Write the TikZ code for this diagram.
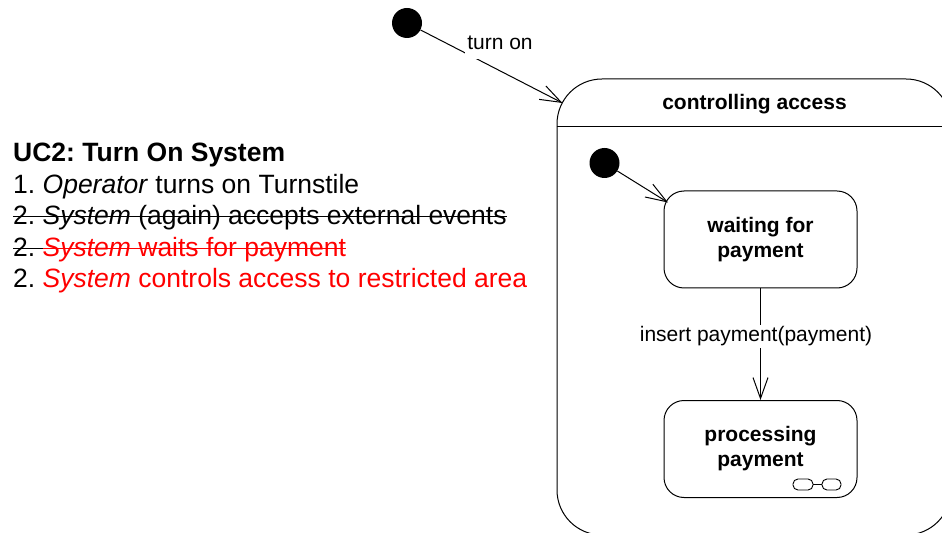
\documentclass[tikz,border=0pt]{standalone}
\usepackage{fontspec}
\setmainfont{Liberation Sans}
\usetikzlibrary{arrows.meta,calc}
\frenchspacing
\newsavebox\stkbox
\newcommand{\stk}[1]{\sbox\stkbox{#1}\rlap{\rule[7.6bp]{\wd\stkbox}{1.3bp}}\usebox\stkbox}
\tikzset{
  statebox/.style={draw, rounded corners=20bp, line width=1bp, minimum width=193bp,
    minimum height=97bp, align=center, inner sep=0,
    font=\bfseries\fontsize{21bp}{25bp}\selectfont},
  initdot/.style={circle, fill=black, minimum size=30bp, inner sep=0},
  trans/.style={-{Straight Barb[length=21bp,width=15bp]}, line width=1bp},
  lbl/.style={fill=white, inner sep=2bp, font=\fontsize{21bp}{25bp}\selectfont},
  uctext/.style={anchor=base west, inner sep=0, font=\fontsize{26.5bp}{31bp}\selectfont},
  uctitle/.style={anchor=base west, inner sep=0, font=\bfseries\fontsize{26.5bp}{31bp}\selectfont},
  iconoval/.style={draw, rounded corners=5bp, minimum height=11bp, inner sep=0, line width=0.9bp},
}
\begin{document}
\begin{tikzpicture}[x=1bp,y=-1bp]
\useasboundingbox (0,0) rectangle (942,533);
\clip (0,0) rectangle (942,533);
\fill[white] (0,0) rectangle (942,533);

% outer composite state
\node[draw, line width=1bp, rounded corners=45bp, minimum width=394bp, minimum height=456bp, inner sep=0] (ca) at (754,307) {};
\draw[line width=1bp] (ca.west |- 0,127) -- (ca.east |- 0,127);
\node[anchor=base, inner sep=0, font=\bfseries\fontsize{21bp}{25bp}\selectfont] (catitle) at (754.5,110) {controlling access};

% top initial state
\node[initdot] (init1) at (407,23) {};
\coordinate (ca-in) at (562.5,103);
\draw[trans] (init1) -- (ca-in);
\node[lbl, anchor=base, text depth=6bp, inner ysep=3bp] (lturnon) at (500,50) {turn on};

% inner initial state
\node[initdot] (init2) at (604.5,163) {};
\node[statebox] (waiting) at (760.5,239.5) {waiting for\\payment};
\coordinate (w-in) at (668,202.5);
\draw[trans] (init2) -- (w-in);

\node[statebox] (processing) at (760.5,449) {processing\\payment};
\draw[trans] (waiting) -- (processing);
\node[lbl, anchor=base] (lins) at (756,342) {insert payment(payment)};

% composite icon
\node[iconoval, minimum width=20bp] (ic1) at (803,484.5) {};
\node[iconoval, minimum width=19bp] (ic2) at (831.5,484.5) {};
\draw[line width=0.9bp] (ic1) -- (ic2);

% use case text
\node[uctitle] (uct) at (13,162) {UC2: Turn On System};
\node[uctext] (uc1) at (13,193.5) {1. \textit{Operator} turns on Turnstile};
\node[uctext] (uc2) at (13,225) {\stk{2. \textit{System} (again) accepts external events}};
\node[uctext] (uc3) at (13,256.5) {\stk{2. }\textcolor{red}{\stk{\textit{System} waits for payment}}};
\node[uctext] (uc4) at (13,288) {2. \textcolor{red}{\textit{System} controls access to restricted area}};
\end{tikzpicture}
\end{document}
